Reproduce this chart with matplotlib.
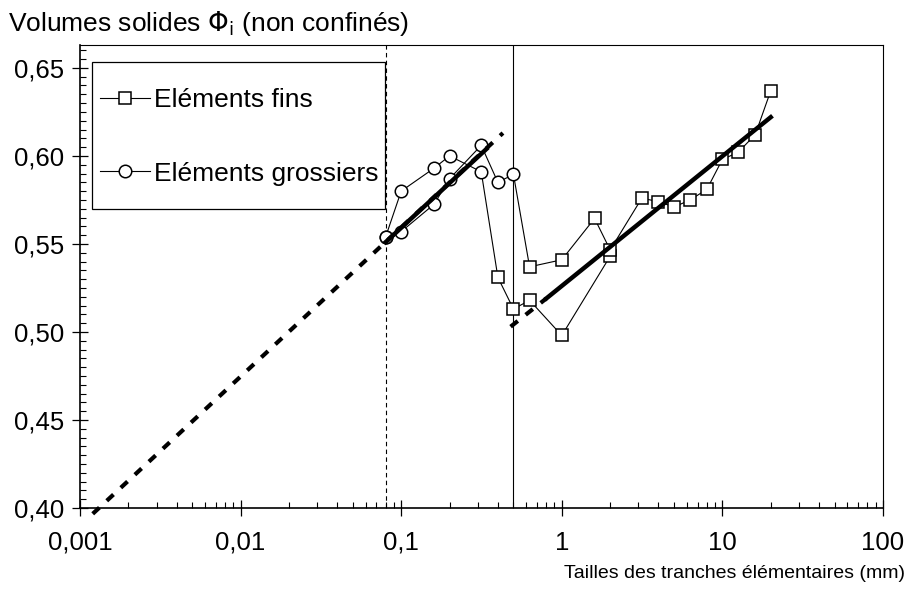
import numpy as np
import matplotlib
matplotlib.use("Agg")
import matplotlib.pyplot as plt
from matplotlib.patches import Rectangle
from matplotlib.ticker import FixedLocator, FixedFormatter, LogLocator, MultipleLocator, NullFormatter

plt.rcParams['font.family'] = ['Liberation Sans', 'DejaVu Sans']
plt.rcParams['mathtext.fontset'] = 'dejavusans'

# test 1 : coarse part (circles) then fine part (squares)
t1_coarse_x = [0.08, 0.1, 0.16, 0.2, 0.315]
t1_coarse_y = [0.554, 0.580, 0.593, 0.600, 0.591]
t1_fine_x = [0.4, 0.5, 0.63, 1.0, 2.0]
t1_fine_y = [0.531, 0.513, 0.518, 0.498, 0.543]

# test 2
t2_coarse_x = [0.08, 0.1, 0.16, 0.2, 0.315, 0.4, 0.5]
t2_coarse_y = [0.554, 0.557, 0.5725, 0.587, 0.606, 0.585, 0.5895]
t2_fine_x = [0.63, 1.0, 1.6, 2.0, 3.15, 4.0, 5.0, 6.3, 8.0, 10.0, 12.5, 16.0, 20.0]
t2_fine_y = [0.537, 0.541, 0.5645, 0.5466, 0.576, 0.574, 0.571, 0.575, 0.581, 0.598, 0.602, 0.612, 0.637]

# regression lines (end points)
fitc_solid_x = [0.08, 0.34]
fitc_solid_y = [0.551, 0.604]
fitc_dash_x = [0.0012, 0.43]
fitc_dash_y = [0.3967, 0.613]
fitf_solid_x = [0.8, 20.0]
fitf_solid_y = [0.519, 0.622]
fitf_dash_x = [0.48, 0.8]
fitf_dash_y = [0.503, 0.519]

sieve_dash = 0.08
sieve_solid = 0.5

xticks = [0.001, 0.01, 0.1, 1, 10, 100]
xticklabels = ['0,001', '0,01', '0,1', '1', '10', '100']
yticks = [0.40, 0.45, 0.50, 0.55, 0.60, 0.65]
yticklabels = ['0,40', '0,45', '0,50', '0,55', '0,60', '0,65']

fig = plt.figure(figsize=(9.08, 5.89), dpi=100)
ax = fig.add_axes([80/908, 1-508/589, 803/908, 463/589])
ax.set_xscale('log')
ax.set_xlim(0.001, 100)
ax.set_ylim(0.40, 0.663)

ax.axvline(sieve_dash, color='black', lw=0.8, ls=(0, (4, 3)), zorder=1)
ax.axvline(sieve_solid, color='black', lw=0.8, zorder=1)

mk = dict(mfc='white', mec='black', mew=1.1, ms=9, color='black', lw=0.8, zorder=3)
for cx, cy, fx, fy in [(t1_coarse_x, t1_coarse_y, t1_fine_x, t1_fine_y),
                       (t2_coarse_x, t2_coarse_y, t2_fine_x, t2_fine_y)]:
    ax.plot(cx + fx, cy + fy, color='black', lw=0.8, zorder=2)
    ax.plot(cx, cy, ls='none', marker='o', mfc='white', mec='black', mew=1.1, ms=9, zorder=3)
    ax.plot(fx, fy, ls='none', marker='s', mfc='white', mec='black', mew=1.1, ms=9, zorder=3)

ax.plot(fitc_dash_x, fitc_dash_y, color='black', lw=3, ls=(0, (2.2, 2.4)),
        dash_capstyle='butt', zorder=4, clip_on=False)
ax.plot(fitf_dash_x, fitf_dash_y, color='black', lw=3, ls=(0, (2.2, 2.4)),
        dash_capstyle='butt', zorder=4)
ax.plot(fitc_solid_x, fitc_solid_y, color='black', lw=3.2, zorder=4)
ax.plot(fitf_solid_x, fitf_solid_y, color='black', lw=3.2, zorder=4)

# legend: frame drawn as a rectangle, entries placed inside
ax.add_patch(Rectangle((11.7/803, (508-209)/463), 293/803, 147/463,
                       transform=ax.transAxes, facecolor='white', edgecolor='black',
                       lw=0.9, zorder=5))
h1, = ax.plot([], [], marker='s', **mk)
h2, = ax.plot([], [], marker='o', **mk)
leg = ax.legend([h1, h2], ['Eléments fins', 'Eléments grossiers'],
                loc='upper left', bbox_to_anchor=(20/803, (508-88)/463),
                borderaxespad=0, borderpad=0, fontsize=19, frameon=False,
                labelspacing=1.88, handlelength=1.9, handletextpad=0.15,
                numpoints=1)
leg.set_zorder(6)

ax.xaxis.set_major_locator(FixedLocator(xticks))
ax.xaxis.set_major_formatter(FixedFormatter(xticklabels))
ax.xaxis.set_minor_locator(LogLocator(base=10, subs=np.arange(2, 10)))
ax.xaxis.set_minor_formatter(NullFormatter())
ax.yaxis.set_major_locator(FixedLocator(yticks))
ax.yaxis.set_major_formatter(FixedFormatter(yticklabels))
ax.yaxis.set_minor_locator(MultipleLocator(0.005))

ax.tick_params(which='major', direction='inout', length=11, width=0.9,
               labelsize=18.5, pad=6, color='black')
ax.tick_params(which='minor', direction='in', length=4, width=0.8)
ax.tick_params(axis='x', pad=11)

for s in ['top', 'right']:
    ax.spines[s].set_linewidth(0.8)
for s in ['left', 'bottom']:
    ax.spines[s].set_linewidth(1.2)

fig.text(8/908, 1-23/589, r'Volumes solides $\Phi_\mathrm{i}$ (non confinés)',
         ha='left', va='center', fontsize=19)
fig.text(905/908, 1-573/589, 'Tailles des tranches élémentaires (mm)',
         ha='right', va='center', fontsize=14)

fig.savefig('out.png', dpi=100)
